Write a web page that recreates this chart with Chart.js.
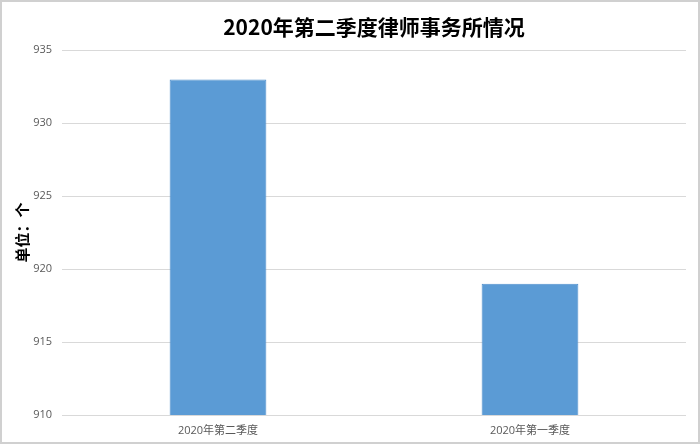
<!DOCTYPE html>
<html lang="zh">
<head>
    <meta charset="UTF-8">
    <title>2020年第二季度律师事务所情况</title>
    <script src="https://cdn.jsdelivr.net/npm/chart.js"></script>
    <style>
        body { margin: 0; background: #fff; }
    </style>
</head>
<body>
    <canvas id="myChart" width="700" height="444"></canvas>
    <script>
        const quarters = ['2020年第二季度', '2020年第一季度'];
        const firmCounts = [933, 919];
        const yMin = 910;
        const yMax = 935;
        const yStep = 5;

        // white background + thin gray frame like the original picture
        const frame = {
            id: 'frame',
            beforeDraw(chart) {
                const c = chart.ctx;
                c.save();
                c.fillStyle = '#fff';
                c.fillRect(0, 0, chart.width, chart.height);
                c.strokeStyle = '#d0d0d0';
                c.lineWidth = 2;
                c.strokeRect(1, 1, chart.width - 2, chart.height - 2);
                c.restore();
            }
        };

        const ctx = document.getElementById('myChart');
        new Chart(ctx, {
            type: 'bar',
            data: {
                labels: quarters,
                datasets: [{
                    data: firmCounts,
                    backgroundColor: '#5b9bd5',
                    borderColor: '#4f8fcc',
                    borderWidth: 1,
                    barPercentage: 0.31,
                    categoryPercentage: 1
                }]
            },
            options: {
                responsive: false,
                animation: false,
                layout: { padding: { right: 14 } },
                scales: {
                    x: {
                        grid: { display: false, drawTicks: false },
                        border: { display: false },
                        ticks: {
                            padding: 9,
                            color: '#595959',
                            font: { family: '"Open Sans", "Noto Sans CJK SC"', size: 11 }
                        },
                        afterFit(scale) { scale.height = 29; }
                    },
                    y: {
                        min: yMin,
                        max: yMax,
                        ticks: {
                            stepSize: yStep,
                            padding: 10,
                            color: '#595959',
                            font: { family: '"Open Sans"', size: 11 }
                        },
                        grid: { color: '#d9d9d9', drawTicks: false },
                        border: { display: false },
                        title: {
                            display: true,
                            text: '单位：个',
                            color: '#000',
                            padding: { top: 13, bottom: 0 },
                            font: { family: '"Noto Sans CJK SC"', size: 15, weight: 'bold' }
                        },
                        afterFit(scale) { scale.width = 62; }
                    }
                },
                plugins: {
                    legend: { display: false },
                    tooltip: { enabled: false },
                    title: {
                        display: true,
                        fullSize: false,
                        text: '2020年第二季度律师事务所情况',
                        color: '#000',
                        padding: { top: 14, bottom: 11 },
                        font: { family: '"Noto Sans CJK SC"', size: 21, weight: 'bold' }
                    }
                }
            },
            plugins: [frame]
        });
    </script>
</body>
</html>
